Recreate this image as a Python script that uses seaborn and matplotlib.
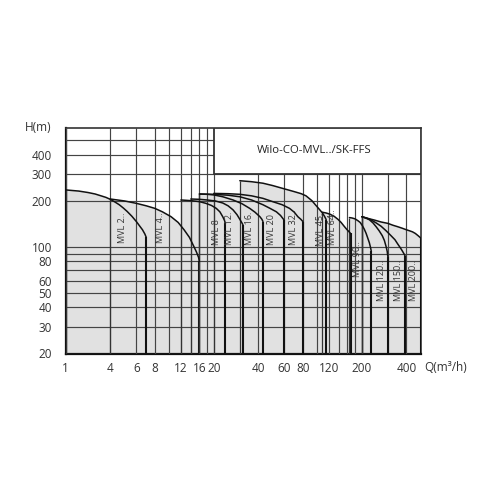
import numpy as np
import pandas as pd
import matplotlib
matplotlib.use('Agg')
import matplotlib.pyplot as plt
import seaborn as sns
from matplotlib.patches import Rectangle
from matplotlib.ticker import NullFormatter

# pump curves: flow Q (m3/h) and head H (m)
mvl2_q = [1, 1.5, 2, 2.5, 3, 3.5, 4, 4.3, 4.6, 4.9, 5.2, 5.6, 6, 6.3, 6.6, 6.85, 7.0]
mvl2_h = [235, 231, 226, 221, 215, 210, 204, 196, 188, 179, 170, 158, 146, 137, 129, 121, 115]
mvl4_q = [4, 5, 6, 7, 8, 9, 10.3, 11.5, 12.6, 13.7, 14.7, 15.3, 15.8, 16]
mvl4_h = [205, 199, 192, 185, 178, 169, 157, 144, 129, 115, 100, 92, 85, 80]
mvl8_q = [12, 14, 16, 17.7, 19.3, 20.8, 22, 23, 23.6, 24]
mvl8_h = [202, 200, 197, 192, 186, 178, 169, 157, 149, 142]
mvl12_q = [14, 16, 18, 20.5, 23, 25, 27, 28.7, 30, 31, 31.5]
mvl12_h = [205, 204, 202, 199, 193, 185, 174, 162, 151, 143, 139]
mvl16_q = [16, 18, 20, 23, 27, 31, 35, 38, 41, 42.3, 43]
mvl16_h = [221, 220, 218, 212, 202, 191, 178, 168, 157, 151, 146]
mvl20_q = [16, 20, 25, 30, 36, 43, 48, 53, 56.5, 59.5]
mvl20_h = [221, 220, 217, 212, 202, 188, 178, 169, 160, 150]
mvl32_q = [20, 25, 30, 36, 43, 50, 58, 65, 70, 74, 77.5, 80]
mvl32_h = [223, 222, 220, 215, 207, 197, 188, 178, 168, 157, 151, 146]
mvl45_q = [30, 36, 43, 50, 58, 70, 78, 84, 92, 100, 108, 112, 115]
mvl45_h = [270, 266, 260, 251, 241, 229, 222, 215, 200, 182, 167, 158, 150]
mvl64_q = [108, 115, 122, 130, 138, 145, 152, 158, 163, 168]
mvl64_h = [168, 166, 163, 158, 151, 144, 136, 130, 126, 122]
mvl90_q = [165, 172, 180, 188, 195, 202, 208, 214, 220, 225, 229, 232]
mvl90_h = [155, 154, 152, 148, 144, 137, 130, 122, 113, 106, 99, 93]
mvl120_q = [200, 212, 225, 238, 250, 262, 275, 284, 292, 297, 300]
mvl120_h = [157, 154, 150, 143, 135, 127, 118, 110, 100, 93, 86]
mvl150_q = [200, 215, 230, 250, 270, 292, 315, 335, 350, 365, 375, 385, 392]
mvl150_h = [157, 154, 150, 143, 136, 127, 118, 111, 104, 98, 94, 90, 87]
mvl200_q = [200, 220, 245, 270, 300, 325, 350, 375, 400, 420, 440, 460, 480, 500]
mvl200_h = [157, 153, 149, 145, 142, 138, 135, 132, 129, 127, 125, 122, 118, 114]

names = ['MVL 2..', 'MVL 4..', 'MVL 8', 'MVL 12.', 'MVL 16.', 'MVL 20', 'MVL 32..',
         'MVL 45..', 'MVL 64..', 'MVL 90..', 'MVL 120..', 'MVL 150..', 'MVL 200..']
curves = [(mvl2_q, mvl2_h), (mvl4_q, mvl4_h), (mvl8_q, mvl8_h), (mvl12_q, mvl12_h),
          (mvl16_q, mvl16_h), (mvl20_q, mvl20_h), (mvl32_q, mvl32_h), (mvl45_q, mvl45_h),
          (mvl64_q, mvl64_h), (mvl90_q, mvl90_h), (mvl120_q, mvl120_h),
          (mvl150_q, mvl150_h), (mvl200_q, mvl200_h)]

# where the rotated model names sit (Q centre, H at text start)
label_q = [4.87, 8.8, 20.8, 25.5, 34.9, 48.9, 69.6, 105, 126, 187, 273, 352, 447]
label_h = [106, 106, 103, 103, 103, 103, 103, 101, 103, 63, 44, 44, 44]

x_ticks = [1, 4, 6, 8, 12, 16, 20, 40, 60, 80, 120, 200, 400]
x_grid_extra = [10, 14, 18, 100, 140, 160, 180, 300]
y_ticks = [20, 30, 40, 50, 60, 80, 100, 200, 300, 400]
y_grid_extra = [70, 90, 500]
title = 'Wilo-CO-MVL../SK-FFS'

rows = []
for name, (q, h) in zip(names, curves):
    for qq, hh in zip(q, h):
        rows.append({'model': name, 'Q': qq, 'H': hh})
df = pd.DataFrame(rows)


def fwd(q):
    # 1..4 squeezed into one octave, log2 above that
    q = np.maximum(np.asarray(q, dtype=float), 1e-6)
    l = np.log2(q)
    return np.where(q >= 4, l, 1 + l / 2)


def inv(u):
    u = np.asarray(u, dtype=float)
    return np.where(u >= 2, 2.0 ** u, 4.0 ** (u - 1))


sns.set_theme(style='white')
plt.rcParams['font.family'] = ['Open Sans', 'DejaVu Sans']

fig, ax = plt.subplots(figsize=(5, 5), dpi=100)
fig.subplots_adjust(left=0.1314, right=0.8414, bottom=0.293, top=0.7446)
ax.set_xscale('function', functions=(fwd, inv))
ax.set_yscale('log')

for q, h in curves:
    ax.fill_between(q, h, 20, color='#e1e1e1', lw=0, zorder=1)
    ax.vlines(q[0], 20, h[0], color='#333333', lw=0.9, zorder=3)
    ax.vlines(q[-1], 20, h[-1], color='#111111', lw=1.5, zorder=3)

sns.lineplot(data=df, x='Q', y='H', units='model', estimator=None, sort=False,
             color='#111111', lw=1.1, legend=False, ax=ax, zorder=3)

ax.set_xlim(1, 500)
ax.set_ylim(20, 600)
ax.set_xticks(x_ticks, labels=[str(v) for v in x_ticks])
ax.set_xticks(x_grid_extra, minor=True)
ax.set_yticks(y_ticks, labels=[str(v) for v in y_ticks])
ax.set_yticks(y_grid_extra, minor=True)
ax.xaxis.set_minor_formatter(NullFormatter())
ax.yaxis.set_minor_formatter(NullFormatter())
ax.set_axisbelow(False)
ax.grid(which='both', color='#444444', lw=0.85)
ax.tick_params(which='both', length=0, labelsize=8.5, labelcolor='#333333')
ax.tick_params(axis='y', pad=10)
ax.tick_params(axis='x', pad=6)
ax.set_xlabel('')
ax.set_ylabel('')

for s in ax.spines.values():
    s.set_color('#333333')
    s.set_linewidth(1.2)
for s in ['left', 'bottom']:
    ax.spines[s].set_color('#111111')
    ax.spines[s].set_linewidth(1.6)

# title box in the upper right corner
ax.add_patch(Rectangle((20, 300), 480, 300, facecolor='white', edgecolor='#333333',
                       lw=1.3, zorder=4))
ax.text(96, 424, title, ha='center', va='center', fontsize=8.2, color='#222222', zorder=6)

for name, q, h in zip(names, label_q, label_h):
    ax.text(q, h, name, rotation=90, ha='center', va='bottom', fontsize=6.5,
            color='#333333', zorder=5)

ax.annotate('H(m)', xy=(0, 1), xycoords='axes fraction', xytext=(-10.5, 0),
            textcoords='offset points', ha='right', va='center', fontsize=8.5, color='#333333')
ax.annotate('Q(m³/h)', xy=(1, 0), xycoords='axes fraction', xytext=(2.2, -10.4),
            textcoords='offset points', ha='left', va='center', fontsize=8.5, color='#333333')

fig.savefig('out.png', dpi=100, facecolor='white')
